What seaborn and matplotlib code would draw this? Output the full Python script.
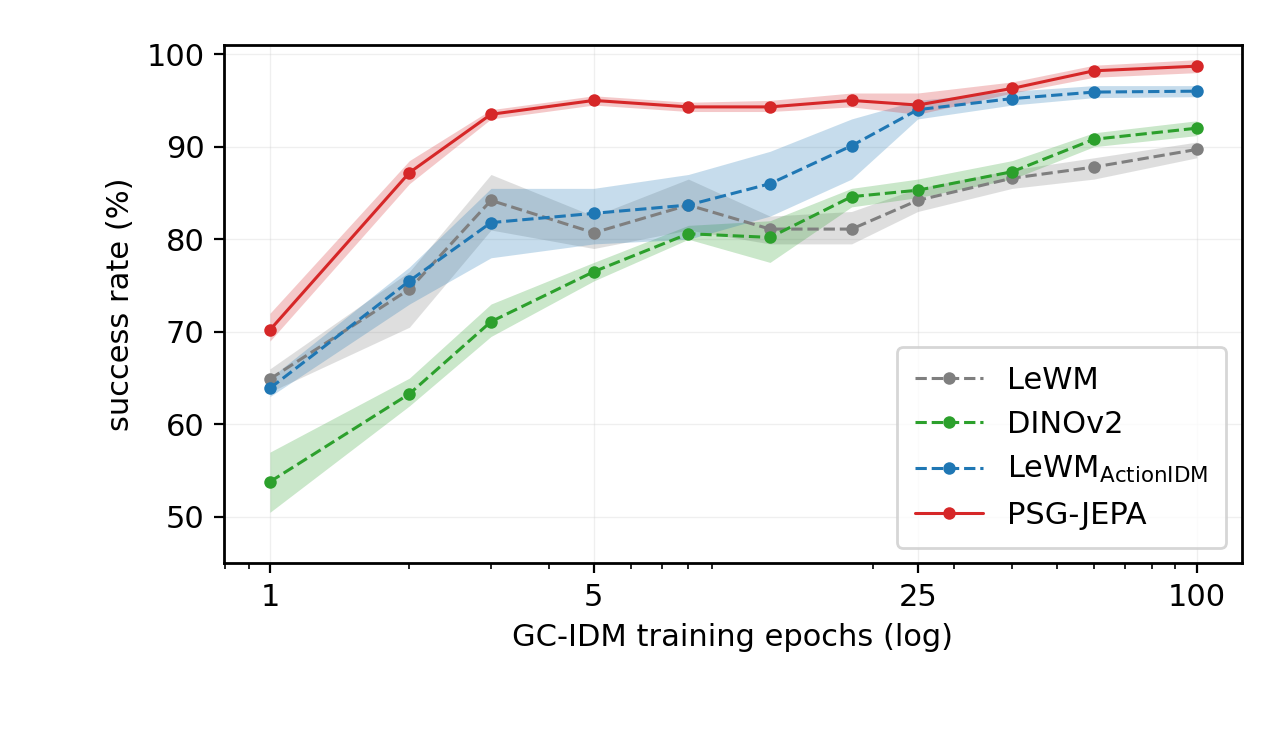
import matplotlib
matplotlib.use("Agg")
import matplotlib.pyplot as plt
import seaborn as sns
import numpy as np
import pandas as pd
from matplotlib.ticker import FixedLocator, FixedFormatter, LogLocator, NullFormatter

epochs = [1, 2, 3, 5, 8, 12, 18, 25, 40, 60, 100]
lewm = [64.9, 74.6, 84.2, 80.7, 83.7, 81.1, 81.1, 84.2, 86.6, 87.8, 89.7]
lewm_lo = [63.5, 70.5, 81.0, 79.0, 81.0, 79.5, 79.5, 83.0, 85.5, 86.5, 88.8]
lewm_hi = [66.0, 76.5, 87.0, 82.5, 86.5, 82.5, 83.0, 85.5, 87.5, 88.8, 90.5]
dino = [53.8, 63.3, 71.1, 76.5, 80.6, 80.2, 84.6, 85.3, 87.3, 90.8, 92.0]
dino_lo = [50.5, 62.0, 69.5, 75.5, 80.0, 77.5, 83.5, 84.5, 86.5, 90.0, 91.2]
dino_hi = [57.0, 65.0, 73.0, 77.5, 81.5, 82.0, 85.5, 86.5, 88.5, 91.5, 92.8]
act = [63.9, 75.5, 81.8, 82.8, 83.7, 86.0, 90.1, 94.0, 95.2, 95.9, 96.0]
act_lo = [63.0, 73.0, 78.0, 79.5, 80.0, 82.5, 86.5, 93.0, 94.5, 95.3, 95.4]
act_hi = [65.0, 77.0, 85.5, 85.5, 87.0, 89.5, 93.0, 95.0, 96.0, 96.6, 96.6]
psg = [70.2, 87.2, 93.5, 95.0, 94.3, 94.3, 95.0, 94.5, 96.3, 98.2, 98.7]
psg_lo = [69.0, 86.0, 93.0, 94.5, 93.8, 93.8, 94.3, 93.5, 95.8, 97.5, 98.0]
psg_hi = [72.0, 88.5, 94.0, 95.5, 94.8, 95.0, 95.8, 95.8, 97.0, 98.8, 99.4]

sns.set_style("ticks")
plt.rcParams['font.family'] = ['DejaVu Sans']
plt.rcParams['text.color'] = 'black'
plt.rcParams['axes.labelcolor'] = 'black'
plt.rcParams['xtick.color'] = 'black'
plt.rcParams['ytick.color'] = 'black'
plt.rcParams['axes.edgecolor'] = 'black'
fig = plt.figure(figsize=(6.4, 3.74), dpi=200)
ax = fig.add_axes([0.175, 0.247, 0.795, 0.693])

series = [
    ("LeWM", lewm, lewm_lo, lewm_hi, "tab:gray", "--"),
    ("DINOv2", dino, dino_lo, dino_hi, "tab:green", "--"),
    (r"LeWM$_{\mathrm{ActionIDM}}$", act, act_lo, act_hi, "tab:blue", "--"),
    ("PSG-JEPA", psg, psg_lo, psg_hi, "tab:red", "-"),
]
for name, y, lo, hi, c, ls in series:
    df = pd.DataFrame({"x": epochs, "y": y})
    sns.lineplot(data=df, x="x", y="y", ax=ax, color=c, linestyle=ls, marker="o",
                 markersize=4.5, markeredgewidth=0, label=name, linewidth=1.1)
    ax.fill_between(epochs, lo, hi, color=c, alpha=0.25, linewidth=0)

ax.set_xscale("log")
ax.set_xlim(0.796, 125)
ax.set_ylim(45, 101)
ax.xaxis.set_major_locator(FixedLocator([1, 5, 25, 100]))
ax.xaxis.set_major_formatter(FixedFormatter(["1", "5", "25", "100"]))
ax.xaxis.set_minor_locator(LogLocator(base=10, subs=np.arange(2, 10)))
ax.xaxis.set_minor_formatter(NullFormatter())
ax.set_yticks([50, 60, 70, 80, 90, 100])
ax.grid(True, which="major", alpha=0.3, linewidth=0.5)
ax.tick_params(labelsize=11)
ax.set_xlabel("GC-IDM training epochs (log)", fontsize=11)
ax.set_ylabel("success rate (%)", fontsize=11)
for s in ax.spines.values():
    s.set_linewidth(1.0)
ax.legend(loc="lower right", fontsize=11, frameon=True, fancybox=True, framealpha=0.8,
          handlelength=2.2, handletextpad=0.8, borderpad=0.6)
fig.savefig("out.png", dpi=200)
